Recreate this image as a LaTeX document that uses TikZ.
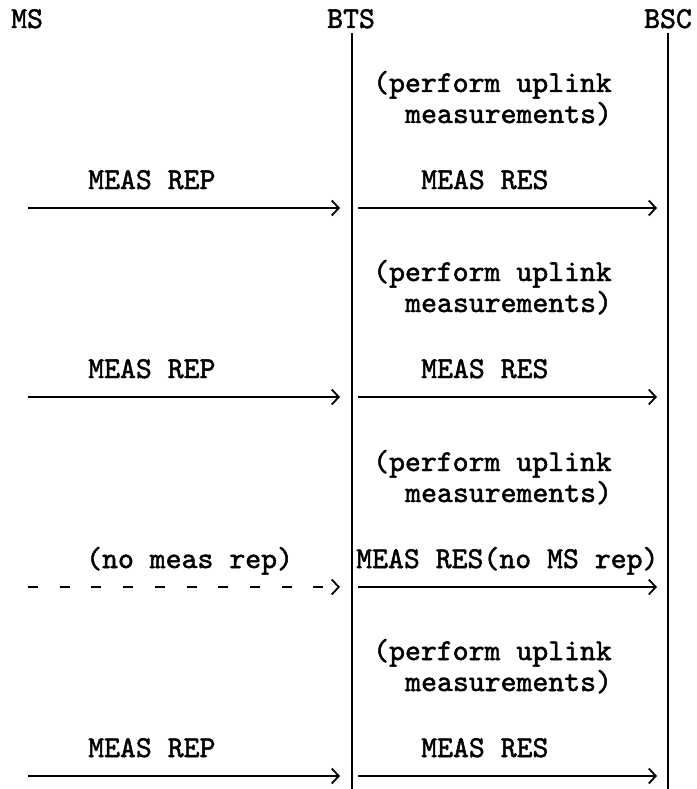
\documentclass[tikz,border=0pt]{standalone}
\usepackage{fontspec}
\setmonofont{lmmono10-regular.otf}[FakeBold=1.6]
\usetikzlibrary{arrows.meta}
\begin{document}
\begin{tikzpicture}[x=1pt,y=-1pt,
  lbl/.style={font=\fontsize{30.3}{31}\selectfont\ttfamily, inner sep=0pt, anchor=base west},
  life/.style={line width=2.2pt},
  msg/.style={line width=1.8pt, -{Straight Barb[length=7pt,width=15pt,line width=1.8pt]}},
  nomsg/.style={msg, dash pattern=on 10pt off 21.7pt},
]
\useasboundingbox (0,0) rectangle (696,789);
% participants
\node[lbl] (ms) at (11,28) {MS};
\node[lbl] (bts) at (327,28) {BTS};
\node[lbl] (bsc) at (644,28) {BSC};
\coordinate (btstop) at (352,33);
\coordinate (btsbot) at (352,789);
\coordinate (bsctop) at (668,33);
\coordinate (bscbot) at (668,789);
\draw[life] (btstop) -- (btsbot);
\draw[life] (bsctop) -- (bscbot);
% blocks: arrow y = 208 + 189.3 k
\foreach \k/\ay in {1/208, 2/397, 4/776}{
  \node[lbl] (pa\k) at (373,\ay-116) {(perform uplink};
  \node[lbl] (pb\k) at (405,\ay-85) {measurements)};
  \node[lbl] (rep\k) at (88,\ay-19) {MEAS REP};
  \node[lbl] (res\k) at (421,\ay-19) {MEAS RES};
  \coordinate (l\k) at (28,\ay);
  \coordinate (m\k) at (340,\ay);
  \coordinate (n\k) at (358,\ay);
  \coordinate (r\k) at (657,\ay);
  \draw[msg] (l\k) -- (m\k);
  \draw[msg] (n\k) -- (r\k);
}
\node[lbl] (pa3) at (373,471) {(perform uplink};
\node[lbl] (pb3) at (405,502) {measurements)};
\node[lbl] (rep3) at (86,568) {(no meas rep)};
\node[lbl] (res3) at (356,568) {MEAS RES(no MS rep)};
\coordinate (l3) at (28,587);
\coordinate (m3) at (340,587);
\coordinate (n3) at (358,587);
\coordinate (r3) at (657,587);
\draw[nomsg] (l3) -- (m3);
\draw[msg] (n3) -- (r3);
\end{tikzpicture}
\end{document}
